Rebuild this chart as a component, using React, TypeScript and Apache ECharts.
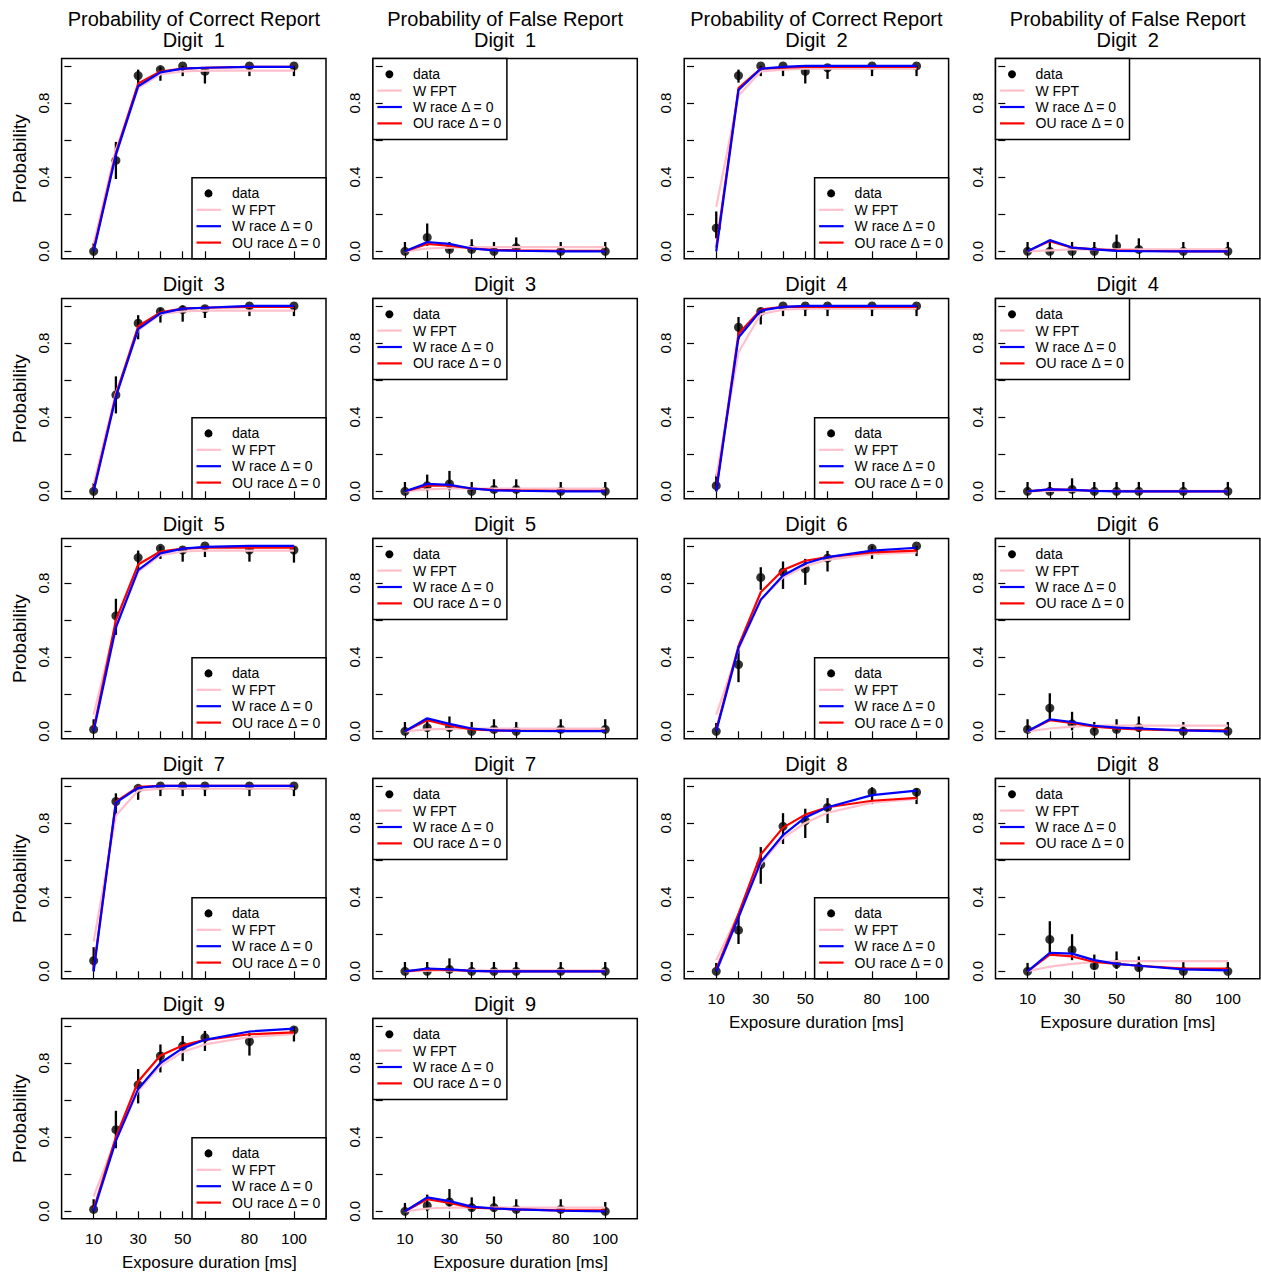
import React, { useEffect, useRef } from "react";
import * as echarts from "echarts";

// ---------- data ----------
const durations = [10, 20, 30, 40, 50, 60, 80, 100];
const xTickLabels = [10, 30, 50, 80, 100];
const yTicks = [0, 0.2, 0.4, 0.6, 0.8, 1.0];
const yTickLabels = [0, 0.4, 0.8];
const digits = [1, 2, 3, 4, 5, 6, 7, 8, 9];
const legendNames = ["data", "W FPT", "W race Δ = 0", "OU race Δ = 0"];
const modelColors = ["#FFC0CB", "#0000FF", "#FF0000"];
// drawing order of the model curves (pink, red, blue on top)
const drawOrder = [0, 2, 1];

// Probability of correct report: observed, CI low, CI high (rows = digits 1..9)
const correctObs = [
  [0.0, 0.49, 0.948, 0.98, 1.0, 0.97, 1.0, 1.0],
  [0.125, 0.948, 1.0, 1.0, 0.97, 0.99, 1.0, 1.0],
  [0.0, 0.52, 0.907, 0.97, 0.98, 0.985, 1.0, 1.0],
  [0.03, 0.885, 0.97, 1.0, 1.0, 1.0, 1.0, 1.0],
  [0.01, 0.623, 0.937, 0.987, 0.978, 1.0, 0.978, 0.978],
  [0.0, 0.36, 0.83, 0.858, 0.876, 0.934, 0.987, 1.0],
  [0.057, 0.916, 0.987, 1.0, 1.0, 1.0, 1.0, 1.0],
  [0.0, 0.222, 0.576, 0.782, 0.812, 0.884, 0.966, 0.966],
  [0.01, 0.44, 0.682, 0.838, 0.892, 0.937, 0.916, 0.978],
];
const correctLow = [
  [0.0, 0.39, 0.9, 0.92, 0.945, 0.905, 0.945, 0.945],
  [0.07, 0.91, 0.945, 0.945, 0.905, 0.93, 0.945, 0.945],
  [0.0, 0.42, 0.82, 0.91, 0.915, 0.935, 0.945, 0.945],
  [0.0, 0.82, 0.9, 0.945, 0.945, 0.945, 0.945, 0.945],
  [0.0, 0.52, 0.86, 0.93, 0.915, 0.94, 0.915, 0.91],
  [0.0, 0.265, 0.763, 0.768, 0.79, 0.862, 0.93, 0.945],
  [0.0, 0.84, 0.925, 0.945, 0.945, 0.945, 0.945, 0.945],
  [0.0, 0.147, 0.472, 0.687, 0.719, 0.8, 0.902, 0.902],
  [0.0, 0.34, 0.582, 0.749, 0.81, 0.865, 0.84, 0.916],
];
const correctHigh = [
  [0.045, 0.59, 0.98, 0.995, 1.0, 0.985, 1.0, 1.0],
  [0.215, 0.98, 1.0, 1.0, 0.985, 1.0, 1.0, 1.0],
  [0.045, 0.62, 0.95, 0.99, 1.0, 1.0, 1.0, 1.0],
  [0.09, 0.94, 0.99, 1.0, 1.0, 1.0, 1.0, 1.0],
  [0.065, 0.715, 0.975, 1.0, 0.995, 1.0, 0.995, 0.995],
  [0.045, 0.46, 0.885, 0.916, 0.93, 0.973, 1.0, 1.0],
  [0.13, 0.96, 1.0, 1.0, 1.0, 1.0, 1.0, 1.0],
  [0.045, 0.313, 0.67, 0.853, 0.877, 0.934, 0.993, 0.987],
  [0.065, 0.542, 0.767, 0.9, 0.946, 0.973, 0.964, 0.995],
];
// Model predictions, correct report
const correctWFPT = [
  [0.04, 0.55, 0.88, 0.955, 0.97, 0.975, 0.975, 0.975],
  [0.24, 0.84, 0.97, 0.98, 0.985, 0.985, 0.985, 0.985],
  [0.04, 0.53, 0.87, 0.955, 0.97, 0.975, 0.975, 0.975],
  [0.08, 0.75, 0.955, 0.98, 0.985, 0.985, 0.985, 0.985],
  [0.09, 0.58, 0.86, 0.95, 0.97, 0.975, 0.975, 0.975],
  [0.09, 0.44, 0.71, 0.83, 0.89, 0.925, 0.955, 0.965],
  [0.16, 0.84, 0.975, 0.985, 0.985, 0.985, 0.985, 0.985],
  [0.06, 0.31, 0.58, 0.72, 0.8, 0.855, 0.91, 0.93],
  [0.08, 0.39, 0.65, 0.785, 0.86, 0.9, 0.94, 0.955],
];
const correctWRace = [
  [0.0, 0.52, 0.89, 0.965, 0.985, 0.99, 0.995, 0.995],
  [0.0, 0.87, 0.985, 0.995, 1.0, 1.0, 1.0, 1.0],
  [0.0, 0.51, 0.875, 0.96, 0.985, 0.99, 1.0, 1.0],
  [0.0, 0.83, 0.975, 0.995, 1.0, 1.0, 1.0, 1.0],
  [0.0, 0.56, 0.87, 0.96, 0.985, 0.995, 1.0, 1.0],
  [0.0, 0.45, 0.71, 0.84, 0.905, 0.94, 0.975, 0.99],
  [0.0, 0.91, 0.99, 1.0, 1.0, 1.0, 1.0, 1.0],
  [0.0, 0.29, 0.59, 0.735, 0.83, 0.885, 0.95, 0.975],
  [0.0, 0.38, 0.66, 0.8, 0.88, 0.925, 0.97, 0.985],
];
const correctOURace = [
  [0.01, 0.53, 0.905, 0.97, 0.985, 0.99, 0.995, 0.995],
  [0.02, 0.88, 0.985, 0.99, 0.995, 0.995, 0.995, 0.995],
  [0.01, 0.52, 0.89, 0.965, 0.985, 0.99, 0.995, 0.995],
  [0.01, 0.85, 0.98, 0.995, 0.995, 0.995, 0.995, 0.995],
  [0.01, 0.6, 0.9, 0.97, 0.985, 0.99, 0.99, 0.99],
  [0.01, 0.46, 0.75, 0.87, 0.92, 0.94, 0.965, 0.975],
  [0.01, 0.915, 0.995, 1.0, 1.0, 1.0, 1.0, 1.0],
  [0.01, 0.31, 0.63, 0.775, 0.845, 0.885, 0.92, 0.935],
  [0.01, 0.4, 0.7, 0.84, 0.895, 0.925, 0.955, 0.965],
];

// Probability of false report
const falseObs = [
  [0, 0.075, 0.01, 0.01, 0, 0.02, 0, 0],
  [0, 0, 0, 0, 0.03, 0.01, 0, 0],
  [0, 0.03, 0.04, 0, 0.01, 0.01, 0, 0],
  [0, 0, 0.01, 0, 0, 0, 0, 0],
  [0, 0.02, 0.02, 0, 0.01, 0, 0.01, 0.01],
  [0.01, 0.125, 0.04, 0, 0.01, 0.02, 0, 0],
  [0, 0, 0.01, 0, 0, 0, 0, 0],
  [0, 0.172, 0.115, 0.03, 0.04, 0.02, 0, 0],
  [0, 0.03, 0.05, 0.02, 0.02, 0.01, 0.01, 0],
];
const falseLow = [
  [0, 0.03, 0, 0, 0, 0, 0, 0],
  [0, 0, 0, 0, 0, 0, 0, 0],
  [0, 0, 0.005, 0, 0, 0, 0, 0],
  [0, 0, 0, 0, 0, 0, 0, 0],
  [0, 0, 0, 0, 0, 0, 0, 0],
  [0, 0.06, 0.005, 0, 0, 0, 0, 0],
  [0, 0, 0, 0, 0, 0, 0, 0],
  [0, 0.1, 0.06, 0.01, 0.013, 0, 0, 0],
  [0, 0, 0.015, 0, 0, 0, 0, 0],
];
const falseHigh = [
  [0.05, 0.15, 0.05, 0.065, 0.05, 0.075, 0.05, 0.05],
  [0.05, 0.05, 0.05, 0.05, 0.09, 0.07, 0.05, 0.05],
  [0.05, 0.09, 0.11, 0.05, 0.065, 0.065, 0.05, 0.05],
  [0.05, 0.05, 0.07, 0.05, 0.05, 0.05, 0.05, 0.05],
  [0.05, 0.07, 0.08, 0.05, 0.065, 0.05, 0.065, 0.065],
  [0.065, 0.205, 0.105, 0.05, 0.065, 0.08, 0.05, 0.05],
  [0.05, 0.05, 0.07, 0.05, 0.05, 0.05, 0.05, 0.05],
  [0.045, 0.27, 0.2, 0.09, 0.107, 0.08, 0.05, 0.05],
  [0.045, 0.09, 0.12, 0.075, 0.08, 0.065, 0.065, 0.05],
];
const falseWFPT = [
  [0, 0.015, 0.02, 0.022, 0.022, 0.022, 0.022, 0.022],
  [0, 0.005, 0.01, 0.01, 0.01, 0.01, 0.01, 0.01],
  [0, 0.01, 0.015, 0.015, 0.015, 0.015, 0.015, 0.015],
  [0, 0.002, 0.003, 0.003, 0.003, 0.003, 0.003, 0.003],
  [0, 0.01, 0.013, 0.015, 0.015, 0.015, 0.015, 0.015],
  [0, 0.015, 0.025, 0.03, 0.03, 0.03, 0.03, 0.03],
  [0, 0.003, 0.005, 0.005, 0.005, 0.005, 0.005, 0.005],
  [0, 0.025, 0.04, 0.05, 0.055, 0.055, 0.055, 0.055],
  [0, 0.015, 0.02, 0.02, 0.02, 0.02, 0.02, 0.02],
];
const falseWRace = [
  [0, 0.05, 0.04, 0.015, 0.005, 0.003, 0, 0],
  [0, 0.06, 0.02, 0.01, 0.002, 0.001, 0, 0],
  [0, 0.04, 0.035, 0.015, 0.005, 0.003, 0, 0],
  [0, 0.01, 0.008, 0.002, 0, 0, 0, 0],
  [0, 0.07, 0.04, 0.015, 0.005, 0.002, 0.001, 0.001],
  [0, 0.065, 0.05, 0.03, 0.02, 0.015, 0.005, 0],
  [0, 0.015, 0.01, 0.002, 0, 0, 0, 0],
  [0, 0.1, 0.095, 0.06, 0.04, 0.03, 0.01, 0.005],
  [0, 0.075, 0.055, 0.025, 0.015, 0.01, 0.003, 0],
];
const falseOURace = [
  [0, 0.04, 0.03, 0.015, 0.008, 0.005, 0.002, 0.002],
  [0, 0.055, 0.02, 0.01, 0.005, 0.003, 0, 0],
  [0, 0.03, 0.03, 0.015, 0.008, 0.005, 0.002, 0.002],
  [0, 0.01, 0.008, 0.003, 0.001, 0, 0, 0],
  [0, 0.06, 0.03, 0.01, 0.005, 0.003, 0.002, 0.002],
  [0, 0.06, 0.045, 0.025, 0.015, 0.01, 0.005, 0.005],
  [0, 0.01, 0.008, 0.002, 0, 0, 0, 0],
  [0, 0.09, 0.08, 0.05, 0.04, 0.03, 0.015, 0.015],
  [0, 0.065, 0.045, 0.02, 0.015, 0.01, 0.005, 0.005],
];

// ---------- layout ----------
const W = 1261;
const H = 1273;
const colLeft = [61.6, 372.9, 684.2, 995.5];
const rowTop = [58.5, 298.5, 538.5, 778.5, 1018.5];
const plotW = 264.4;
const plotH = 200.2;
const FONT = '"Liberation Sans", Arial, Helvetica, sans-serif';

function buildOption() {
  const grid: any[] = [];
  const xAxis: any[] = [];
  const yAxis: any[] = [];
  const series: any[] = [];
  const graphic: any[] = [];

  digits.forEach((d, di) => {
    const row = Math.floor(di / 2);
    const pair = di % 2;
    const isBottom = (pair === 0 && row === 4) || (pair === 1 && row === 3);
    const kinds = [
      { obs: correctObs, lo: correctLow, hi: correctHigh, models: [correctWFPT, correctWRace, correctOURace] },
      { obs: falseObs, lo: falseLow, hi: falseHigh, models: [falseWFPT, falseWRace, falseOURace] },
    ];
    kinds.forEach((k, ki) => {
      const col = pair * 2 + ki;
      const idx = grid.length;
      const left = colLeft[col];
      const top = rowTop[row];
      grid.push({
        left, top, width: plotW, height: plotH,
        show: true, borderColor: "#000", borderWidth: 1.5, backgroundColor: "transparent",
      });
      xAxis.push({
        type: "value", gridIndex: idx, min: -4.4, max: 114.4,
        axisLine: { show: false },
        splitLine: { show: false },
        axisTick: { show: true, inside: false, length: 7, customValues: durations, lineStyle: { color: "#000", width: 1.2 } },
        axisLabel: {
          show: isBottom, customValues: xTickLabels, margin: 12,
          fontSize: 15.5, color: "#000", fontFamily: FONT,
        },
      });
      yAxis.push({
        type: "value", gridIndex: idx, min: -0.04, max: 1.04,
        axisLine: { show: false },
        splitLine: { show: false },
        axisTick: { show: true, inside: false, length: 7, customValues: yTicks, lineStyle: { color: "#000", width: 1.2 } },
        axisLabel: {
          customValues: yTickLabels, rotate: 90, margin: 11,
          fontSize: 15, color: "#000", fontFamily: FONT,
          formatter: (v: number) => v.toFixed(1),
        },
        name: col === 0 ? "Probability" : "",
        nameLocation: "middle", nameGap: 33, nameRotate: 90,
        nameTextStyle: { fontSize: 19, color: "#000", fontFamily: FONT },
      });

      drawOrder.forEach((mi) => {
        const m = k.models[mi];
        series.push({
          type: "line", name: legendNames[mi + 1], xAxisIndex: idx, yAxisIndex: idx,
          data: durations.map((x, i) => [x, m[di][i]]),
          symbol: "none", silent: true,
          lineStyle: { color: modelColors[mi], width: 2.2 },
          itemStyle: { color: modelColors[mi] },
        });
      });
      series.push({
        type: "custom", name: "data", xAxisIndex: idx, yAxisIndex: idx,
        data: durations.map((x, i) => [x, k.lo[di][i], k.hi[di][i]]),
        encode: { x: 0, y: [1, 2] },
        silent: true,
        renderItem: (_p: any, api: any) => {
          const a = api.coord([api.value(0), api.value(1)]);
          const b = api.coord([api.value(0), api.value(2)]);
          return {
            type: "line",
            shape: { x1: a[0], y1: a[1], x2: b[0], y2: b[1] },
            style: { stroke: "#000", lineWidth: 2.3 },
          };
        },
      });
      series.push({
        type: "scatter", name: "data", xAxisIndex: idx, yAxisIndex: idx,
        data: durations.map((x, i) => [x, k.obs[di][i]]),
        symbol: "circle", symbolSize: 9, silent: true,
        itemStyle: { color: "#000" },
      });

      // titles
      const cx = left + plotW / 2;
      if (row === 0) {
        graphic.push({
          type: "text", x: cx, y: 18.5,
          style: {
            text: ki === 0 ? "Probability of Correct Report" : "Probability of False Report",
            fill: "#000", fontSize: 20, fontFamily: FONT,
            textAlign: "center", textVerticalAlign: "middle",
          },
        });
        graphic.push({
          type: "text", x: cx, y: 39.5,
          style: { text: "Digit\u00a0 " + d, fill: "#000", fontSize: 20, fontFamily: FONT, textAlign: "center", textVerticalAlign: "middle" },
        });
      } else {
        graphic.push({
          type: "text", x: cx, y: top - 14.5,
          style: { text: "Digit\u00a0 " + d, fill: "#000", fontSize: 20, fontFamily: FONT, textAlign: "center", textVerticalAlign: "middle" },
        });
      }

      // x-axis title under the bottom panels
      if (isBottom) {
        graphic.push({
          type: "text", x: cx + (row === 4 ? 15.5 : 0), y: top + plotH + 43.5,
          style: {
            text: "Exposure duration [ms]", fill: "#000", fontSize: 17, fontFamily: FONT,
            textAlign: "center", textVerticalAlign: "middle",
          },
        });
      }

      // legend box
      const lw = 134;
      const lh = 81;
      const lx = ki === 0 ? left + plotW - lw : left;
      const ly = ki === 0 ? top + plotH - lh : top;
      const children: any[] = [
        { type: "rect", shape: { x: lx, y: ly, width: lw, height: lh }, style: { fill: "#fff", stroke: "#000", lineWidth: 1.5 } },
      ];
      legendNames.forEach((name, li) => {
        const yy = ly + 15.7 + li * 16.4;
        if (li === 0) {
          children.push({ type: "circle", shape: { cx: lx + 16.5, cy: yy, r: 4 }, style: { fill: "#000" } });
        } else {
          children.push({
            type: "line", shape: { x1: lx + 4.5, y1: yy, x2: lx + 29, y2: yy },
            style: { stroke: modelColors[li - 1], lineWidth: 2.2 },
          });
        }
        children.push({
          type: "text", x: lx + 40, y: yy,
          style: { text: name, fill: "#000", fontSize: 14, fontFamily: FONT, textAlign: "left", textVerticalAlign: "middle" },
        });
      });
      graphic.push({ type: "group", z: 100, children });
    });
  });

  return {
    animation: false,
    backgroundColor: "#fff",
    textStyle: { fontFamily: FONT },
    grid, xAxis, yAxis, series, graphic,
  };
}

export default function App() {
  const ref = useRef<HTMLDivElement>(null);
  useEffect(() => {
    if (!ref.current) return;
    const chart = echarts.init(ref.current, undefined, { renderer: "svg" });
    chart.setOption(buildOption() as any);
    return () => chart.dispose();
  }, []);
  return (
    <div
      ref={ref}
      style={{ position: "absolute", left: 0, top: 0, width: W, height: H, background: "#fff" }}
    />
  );
}
